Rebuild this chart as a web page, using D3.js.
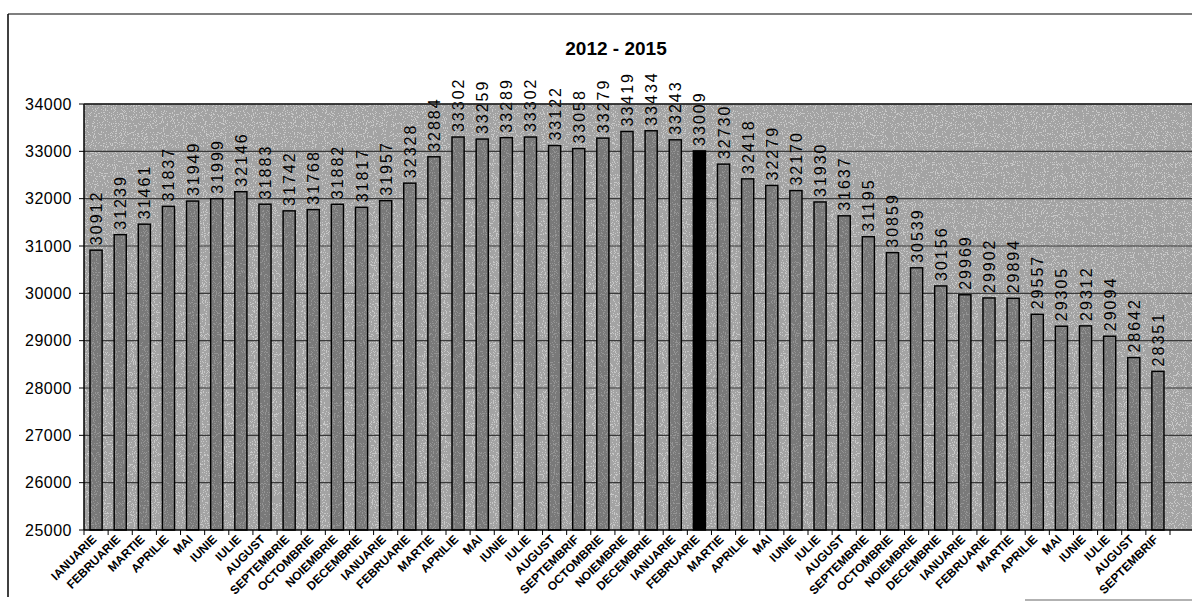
<!DOCTYPE html>
<html>
<head>
<meta charset="utf-8">
<script src="https://cdn.jsdelivr.net/npm/d3@7"></script>
<style>
  body { margin: 0; background: #fff; }
  svg { display: block; font-family: "Liberation Sans", Arial, sans-serif; }
</style>
</head>
<body>
<div id="chart"></div>
<script>
var vWidth = 1192;
var vHeight = 605;

// months, Jan 2012 - Sep 2015
var months = [
  "IANUARIE", "FEBRUARIE", "MARTIE", "APRILIE", "MAI", "IUNIE", "IULIE", "AUGUST", "SEPTEMBRIE", "OCTOMBRIE", "NOIEMBRIE", "DECEMBRIE",
  "IANUARIE", "FEBRUARIE", "MARTIE", "APRILIE", "MAI", "IUNIE", "IULIE", "AUGUST", "SEPTEMBRIF", "OCTOMBRIE", "NOIEMBRIE", "DECEMBRIE",
  "IANUARIE", "FEBRUARIE", "MARTIE", "APRILIE", "MAI", "IUNIE", "IULIE", "AUGUST", "SEPTEMBRIE", "OCTOMBRIE", "NOIEMBRIE", "DECEMBRIE",
  "IANUARIE", "FEBRUARIE", "MARTIE", "APRILIE", "MAI", "IUNIE", "IULIE", "AUGUST", "SEPTEMBRIF"
];
var values = [
  30912, 31239, 31461, 31837, 31949, 31999, 32146, 31883, 31742, 31768, 31882, 31817,
  31957, 32328, 32884, 33302, 33259, 33289, 33302, 33122, 33058, 33279, 33419, 33434,
  33243, 33009, 32730, 32418, 32279, 32170, 31930, 31637, 31195, 30859, 30539, 30156,
  29969, 29902, 29894, 29557, 29305, 29312, 29094, 28642, 28351
];
var highlighted = [25]; // FEBRUARIE 2014
var yTicks = [25000, 26000, 27000, 28000, 29000, 30000, 31000, 32000, 33000, 34000];
var title = "2012 - 2015";

var svg = d3.select("#chart")
    .append("svg")
    .attr("width", vWidth)
    .attr("height", vHeight);

// speckle filter to mimic the scanned look
var defs = svg.append("defs");
var grain = defs.append("filter").attr("id", "grain")
    .attr("x", 0).attr("y", 0).attr("width", "100%").attr("height", "100%");
grain.append("feTurbulence")
    .attr("type", "fractalNoise").attr("baseFrequency", 0.9).attr("numOctaves", 1).attr("seed", 3);
grain.append("feColorMatrix").attr("type", "matrix")
    .attr("values", "0 0 0 0 0  0 0 0 0 0  0 0 0 0 0  1 0 0 0 0");
grain.append("feComponentTransfer").append("feFuncA")
    .attr("type", "discrete").attr("tableValues", "0 0 1 1 1");
grain.append("feComposite").attr("in2", "SourceAlpha").attr("operator", "in");

var plot = { left: 84, right: 1170, top: 104, bottom: 530 };

var x = d3.scaleBand()
    .domain(d3.range(values.length))
    .range([plot.left, plot.right])
    .paddingInner(0.5)
    .paddingOuter(0.25);

var y = d3.scaleLinear()
    .domain([25000, 34000])
    .range([plot.bottom, plot.top]);

var g = svg.append("g");

// plot background (runs off the right edge like the scan)
g.append("rect")
    .attr("x", plot.left).attr("y", plot.top)
    .attr("width", vWidth - plot.left).attr("height", plot.bottom - plot.top)
    .attr("fill", "#c8c8c8");
g.append("rect")
    .attr("x", plot.left).attr("y", plot.top)
    .attr("width", vWidth - plot.left).attr("height", plot.bottom - plot.top)
    .attr("fill", "#000")
    .attr("opacity", 0.18)
    .attr("filter", "url(#grain)");

// gridlines
g.selectAll("line.grid")
    .data(yTicks.slice(1))
    .enter().append("line")
    .attr("class", "grid")
    .attr("x1", plot.left).attr("x2", vWidth)
    .attr("y1", d => y(d)).attr("y2", d => y(d))
    .attr("stroke", "#3a3a3a")
    .attr("stroke-width", 1.2);

// bars
g.selectAll("rect.bar")
    .data(values)
    .enter().append("rect")
    .attr("class", "bar")
    .attr("x", (d, i) => x(i))
    .attr("y", d => y(d))
    .attr("width", x.bandwidth())
    .attr("height", d => plot.bottom - y(d))
    .attr("fill", (d, i) => highlighted.includes(i) ? "#000" : "#959595")
    .attr("stroke", "#000")
    .attr("stroke-width", 1.5);

g.selectAll("rect.barGrain")
    .data(values)
    .enter().append("rect")
    .attr("class", "barGrain")
    .attr("x", (d, i) => x(i) + 1)
    .attr("y", d => y(d) + 1)
    .attr("width", x.bandwidth() - 2)
    .attr("height", d => plot.bottom - y(d) - 1)
    .attr("fill", "#000")
    .attr("opacity", (d, i) => highlighted.includes(i) ? 0 : 0.18)
    .attr("filter", "url(#grain)");

// value labels, vertical
g.selectAll("text.val")
    .data(values)
    .enter().append("text")
    .attr("class", "val")
    .attr("transform", (d, i) => "translate(" + (x(i) + x.bandwidth() / 2 + 6) + "," + (y(d) - 5) + ") rotate(-90)")
    .attr("font-size", 16)
    .attr("letter-spacing", 2)
    .attr("fill", "#000")
    .text(d => d);

// axes
g.append("line")
    .attr("x1", plot.left).attr("x2", plot.left)
    .attr("y1", plot.top).attr("y2", plot.bottom)
    .attr("stroke", "#000").attr("stroke-width", 1.5);
g.append("line")
    .attr("x1", plot.left).attr("x2", vWidth)
    .attr("y1", plot.bottom).attr("y2", plot.bottom)
    .attr("stroke", "#000").attr("stroke-width", 1.5);
g.append("line")
    .attr("x1", plot.left).attr("x2", vWidth)
    .attr("y1", plot.top).attr("y2", plot.top)
    .attr("stroke", "#222").attr("stroke-width", 1.5);

// y ticks and labels
g.selectAll("line.ytick")
    .data(yTicks)
    .enter().append("line")
    .attr("x1", plot.left - 5).attr("x2", plot.left)
    .attr("y1", d => y(d)).attr("y2", d => y(d))
    .attr("stroke", "#000");
g.selectAll("text.ylab")
    .data(yTicks)
    .enter().append("text")
    .attr("x", 72)
    .attr("y", d => y(d) + 5.5)
    .attr("text-anchor", "end")
    .attr("font-size", 16)
    .attr("letter-spacing", 0.5)
    .text(d => d);

// x ticks at category boundaries
var step = x.step();
g.selectAll("line.xtick")
    .data(d3.range(values.length + 1))
    .enter().append("line")
    .attr("x1", i => plot.left + i * step).attr("x2", i => plot.left + i * step)
    .attr("y1", plot.bottom).attr("y2", plot.bottom + 5)
    .attr("stroke", "#000");

// x labels, slanted
g.selectAll("text.xlab")
    .data(months)
    .enter().append("text")
    .attr("transform", (d, i) => "translate(" + (x(i) + x.bandwidth() / 2 + 1) + "," + (plot.bottom + 10) + ") rotate(-45)")
    .attr("text-anchor", "end")
    .attr("font-size", 12)
    .attr("font-weight", "bold")
    .text(d => d);

// title
svg.append("text")
    .attr("x", 616)
    .attr("y", 55)
    .attr("text-anchor", "middle")
    .attr("font-size", 19)
    .attr("font-weight", "bold")
    .text(title);

// chart frame lines from the scan
svg.append("line")
    .attr("x1", 8).attr("x2", 1192).attr("y1", 14).attr("y2", 14)
    .attr("stroke", "#000").attr("stroke-width", 1.2);
svg.append("line")
    .attr("x1", 8).attr("x2", 8).attr("y1", 14).attr("y2", 597)
    .attr("stroke", "#000").attr("stroke-width", 1.5);
svg.append("line")
    .attr("x1", 1025).attr("x2", 1192).attr("y1", 600).attr("y2", 600)
    .attr("stroke", "#666").attr("stroke-width", 1.2);
</script>
</body>
</html>
